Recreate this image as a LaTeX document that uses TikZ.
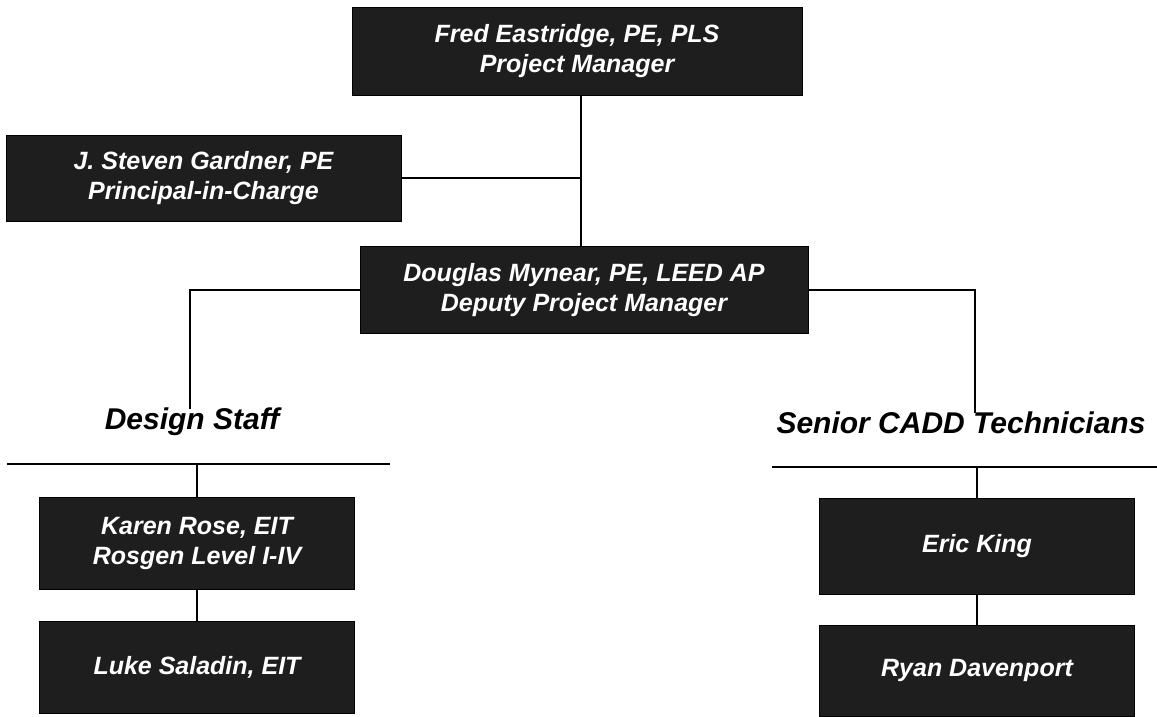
\documentclass[tikz,border=0pt]{standalone}
\usepackage{fontspec}
\setmainfont{Liberation Sans}
\usetikzlibrary{calc}
\definecolor{boxfill}{HTML}{1E1E1E}
\begin{document}
\begin{tikzpicture}[x=1pt,y=-1pt,
  person/.style={draw=black,line width=1pt,fill=boxfill,text=white,inner sep=0pt,align=center,
    font=\bfseries\itshape\fontsize{25}{30}\selectfont},
  header/.style={text=black,inner sep=0pt,font=\bfseries\itshape\fontsize{30}{34}\selectfont},
  link/.style={draw=black,line width=1.6pt}]
\useasboundingbox[fill=white] (0,0) rectangle (1157,716);
\node[person,minimum width=450pt,minimum height=88pt] (fred) at (577,51) {Fred Eastridge, PE, PLS\\Project Manager};
\node[person,minimum width=395pt,minimum height=86pt] (gard) at (203.5,178) {J. Steven Gardner, PE\\Principal-in-Charge};
\node[person,minimum width=448pt,minimum height=87pt] (doug) at (584,290) {Douglas Mynear, PE, LEED AP\\Deputy Project Manager};
\node[person,minimum width=315pt,minimum height=92pt] (karen) at (197,543) {Karen Rose, EIT\\Rosgen Level I-IV};
\node[person,minimum width=315pt,minimum height=92pt] (luke) at (197,667) {Luke Saladin, EIT};
\node[person,minimum width=315pt,minimum height=96pt] (eric) at (977,546) {Eric King};
\node[person,minimum width=315pt,minimum height=91pt] (ryan) at (977,670.5) {Ryan Davenport};
\node[header] (design) at (192,422) {Design Staff};
\node[header] (cadd) at (961,423) {Senior CADD Technicians};
\coordinate (trunk) at (581,178);
\coordinate (lturn) at (190,290);
\coordinate (lend) at (190,409);
\coordinate (rturn) at (975,290);
\coordinate (rend) at (975,413);
\coordinate (lline1) at (7,464);
\coordinate (lline2) at (390,464);
\coordinate (rline1) at (772,467);
\coordinate (rline2) at (1157,467);
% connectors
\draw[link] (fred.south -| trunk) -- (doug.north -| trunk);
\draw[link] (gard.east) -- (trunk);
\draw[link] (doug.west) -- (lturn) -- (lend);
\draw[link] (doug.east) -- (rturn) -- (rend);
\draw[link] (lline1) -- (lline2);
\draw[link] (rline1) -- (rline2);
\draw[link] (karen.north |- lline1) -- (karen.north);
\draw[link] (eric.north |- rline1) -- (eric.north);
\draw[link] (karen.south) -- (luke.north);
\draw[link] (eric.south) -- (ryan.north);
\end{tikzpicture}
\end{document}
